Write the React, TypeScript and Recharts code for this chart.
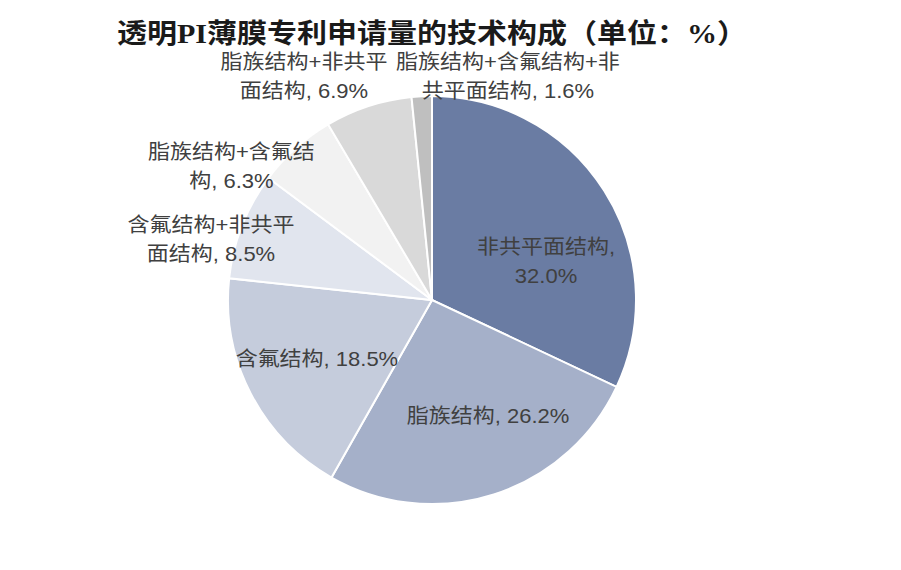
import React from "react";
import { PieChart, Pie, Cell } from "recharts";

const categories = [
  "非共平面结构",
  "脂族结构",
  "含氟结构",
  "含氟结构+非共平面结构",
  "脂族结构+含氟结构",
  "脂族结构+非共平面结构",
  "脂族结构+含氟结构+非共平面结构",
];
const shares = [32.0, 26.2, 18.5, 8.5, 6.3, 6.9, 1.6];
const colors = ["#6a7ca3", "#a5b0c9", "#c5ccdc", "#e1e5ee", "#f2f2f2", "#d9d9d9", "#bfbfbf"];
const title = "透明PI薄膜专利申请量的技术构成（单位：%）";

// label layout: wrap point (chars) in "name, value%" string, radius factor, nudge
const labelBreak = [7, 0, 0, 8, 8, 8, 11];
const labelRadius = [0.6, 0.6, 0.6, 1.1, 1.1, 1.1, 1.1];
const labelNudge: [number, number][] = [
  [10.7, 26.1],
  [19, -1.6],
  [-6.2, 2.1],
  [-12.1, 20.4],
  [-50.6, 32.5],
  [-58, -10.8],
  [87.2, 0.1],
];

const data = categories.map((name, i) => ({ name, value: shares[i] }));

const RAD = Math.PI / 180;
const FONT = "'Liberation Sans', 'Noto Sans CJK SC', sans-serif";

const renderLabel = (props: any) => {
  const { cx, cy, midAngle, outerRadius, index, name, value } = props;
  const r = outerRadius * labelRadius[index];
  const x = cx + r * Math.cos(-midAngle * RAD) + labelNudge[index][0];
  const y = cy + r * Math.sin(-midAngle * RAD) + labelNudge[index][1];
  const full = `${name}, ${Number(value).toFixed(1)}%`;
  const b = labelBreak[index];
  const lines = b > 0 ? [full.slice(0, b).trim(), full.slice(b).trim()] : [full];
  const lh = 29;
  const y0 = -((lines.length - 1) * lh) / 2;
  return (
    <g transform={`translate(${x},${y}) scale(1.1,1)`}>
      <text
        x={0}
        y={y0}
        textAnchor="middle"
        dominantBaseline="central"
        fill="#404040"
        fontSize={20}
        fontFamily={FONT}
      >
        {lines.map((l, k) => (
          <tspan key={k} x={0} y={y0 + k * lh}>
            {l}
          </tspan>
        ))}
      </text>
    </g>
  );
};

export default function App() {
  return (
    <div style={{ position: "absolute", left: 0, top: 0, width: 901, height: 570, background: "#fff" }}>
      <PieChart width={901} height={570} margin={{ top: 0, right: 0, bottom: 0, left: 0 }}>
        <text
          x={432}
          y={34}
          textAnchor="middle"
          dominantBaseline="central"
          fontSize={27}
          fontWeight={700}
          fill="#1a1a1a"
          textLength={630}
          lengthAdjust="spacingAndGlyphs"
          fontFamily="'Liberation Serif', 'Noto Sans CJK SC', serif"
        >
          {title}
        </text>
        <Pie
          data={data}
          dataKey="value"
          nameKey="name"
          cx={432}
          cy={300}
          outerRadius={204}
          startAngle={90}
          endAngle={-270}
          stroke="#ffffff"
          strokeWidth={2}
          label={renderLabel}
          labelLine={false}
          isAnimationActive={false}
        >
          {data.map((d, i) => (
            <Cell key={d.name} fill={colors[i]} />
          ))}
        </Pie>
      </PieChart>
    </div>
  );
}
